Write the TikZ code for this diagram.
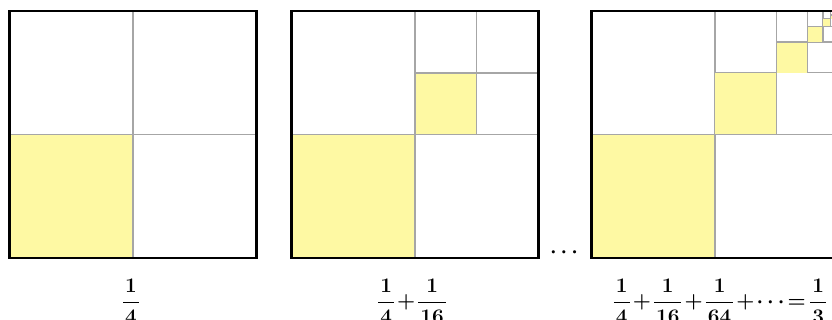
\documentclass[tikz,border=0pt]{standalone}
\definecolor{fillyel}{HTML}{FEF9A3}
\definecolor{gridgray}{HTML}{A6A6A6}
\tikzset{
  gridline/.style={draw=gridgray, line width=1.3pt},
  frame/.style={draw=black, line width=2.6pt},
  yel/.style={fill=fillyel},
  lab/.style={anchor=base, inner sep=0pt, font=\fontsize{22}{26}\selectfont\boldmath}
}
\newcommand{\pfrac}[2]{\frac{\mkern1.5mu#1\mkern1.5mu}{\mkern1.5mu#2\mkern1.5mu}}
\begin{document}
\begin{tikzpicture}[x=1pt,y=-1pt]
\useasboundingbox (0,0) rectangle (832,320);
\clip (0,0) rectangle (832,320);
\fill[white] (0,0) rectangle (832,320);
% square 1
\fill[yel] (9.5,134.5) rectangle (133,258);
\draw[gridline] (133,11) -- (133,258);
\draw[gridline] (9.5,134.5) -- (256.5,134.5);
\draw[frame] (9.5,11) rectangle (256.5,258);
% square 2
\fill[yel] (291.5,134.5) rectangle (415,258);
\fill[yel] (415,73) rectangle (476.75,134.5);
\draw[gridline] (415,11) -- (415,258);
\draw[gridline] (291.5,134.5) -- (538.5,134.5);
\draw[gridline] (476.75,11) -- (476.75,134.5);
\draw[gridline] (415,73) -- (538.5,73);
\draw[frame] (291.5,11) rectangle (538.5,258);
% square 3
\begin{scope}
\clip (591.5,11) rectangle (838.5,258);
\foreach \k in {0,...,7}{%
  \pgfmathsetmacro{\side}{247/(2^\k)}%
  \pgfmathsetmacro{\xl}{591.5+247-\side}%
  \pgfmathsetmacro{\xm}{\xl+\side/2}%
  \pgfmathsetmacro{\xr}{\xl+\side}%
  \pgfmathsetmacro{\ym}{11+\side/2}%
  \pgfmathsetmacro{\yb}{11+\side}%
  \fill[yel] (\xl,\ym) rectangle (\xm,\yb);
  \draw[gridline] (\xm,11) -- (\xm,\yb);
  \draw[gridline] (\xl,\ym) -- (\xr,\ym);
}
\end{scope}
\draw[frame] (591.5,11) rectangle (838.5,258);
% labels
\node[lab] (l1) at (131,307.5) {$\displaystyle\pfrac{1}{4}$};
\node[lab] (l2) at (412,307.5) {$\displaystyle\pfrac{1}{4}\mkern-2.5mu+\mkern-2.5mu\pfrac{1}{16}$};
\node[lab] (l3) at (720,307.5) {$\displaystyle\pfrac{1}{4}\mkern-2.5mu+\mkern-2.5mu\pfrac{1}{16}\mkern-2.5mu+\mkern-2.5mu\pfrac{1}{64}\mkern-2.5mu+\mkern-2.5mu\cdots\mkern-2.5mu=\mkern-2.5mu\pfrac{1}{3}$};
\node[lab] (dots) at (564,258) {$\cdots$};
\end{tikzpicture}
\end{document}
